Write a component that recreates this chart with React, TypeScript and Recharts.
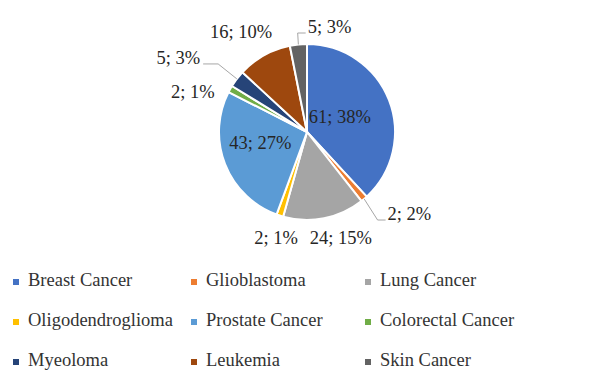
import { PieChart, Pie, Cell, Legend } from "recharts";

const categories = [
  "Breast Cancer",
  "Glioblastoma",
  "Lung Cancer",
  "Oligodendroglioma",
  "Prostate Cancer",
  "Colorectal Cancer",
  "Myeoloma",
  "Leukemia",
  "Skin Cancer",
];
const counts = [61, 2, 24, 2, 43, 2, 5, 16, 5];
const shares = [38, 2, 15, 1, 27, 1, 3, 10, 3];

const colors = [
  "#4472C4",
  "#ED7D31",
  "#A5A5A5",
  "#FFC000",
  "#5B9BD5",
  "#70AD47",
  "#264478",
  "#9E480E",
  "#636363",
];

// label distance from centre (px), angle nudge (deg), text anchor, leader tail length
const labelPlacement = [
  { r: 36, dA: 3, anchor: "middle" },
  { r: 115, dA: 4, anchor: "start", tail: 8 },
  { r: 111, dA: 6.5, anchor: "middle" },
  { r: 110, dA: 1.7, anchor: "middle" },
  { r: 48, dA: -8, anchor: "middle" },
  { r: 121, dA: 10, anchor: "middle" },
  { r: 130, dA: 2.4, anchor: "end", tail: 15 },
  { r: 120, dA: 4, anchor: "middle" },
  { r: 105, dA: -6, anchor: "start", tail: 8 },
];

const data = categories.map((name, i) => ({
  name,
  value: counts[i],
  share: shares[i],
}));

const FONT = "Liberation Serif";
const RAD = Math.PI / 180;

const polar = (cx: number, cy: number, r: number, angle: number) => ({
  x: cx + r * Math.cos(angle * RAD),
  y: cy - r * Math.sin(angle * RAD),
});

function SliceLabel(props: any) {
  const { cx, cy, midAngle, outerRadius, index } = props;
  const place = labelPlacement[index];
  const p = polar(cx, cy, place.r, midAngle + place.dA);
  const item = data[index];

  let leader = null;
  if (place.tail) {
    const edge = polar(cx, cy, outerRadius, midAngle);
    const end =
      place.anchor === "start"
        ? { x: p.x - 2, y: p.y + 6 }
        : { x: p.x + 3, y: p.y + 6 };
    const elbowX = place.anchor === "start" ? end.x - place.tail : end.x + place.tail;
    leader = (
      <polyline
        points={`${edge.x},${edge.y} ${elbowX},${end.y} ${end.x},${end.y}`}
        fill="none"
        stroke="#A6A6A6"
        strokeWidth={1}
      />
    );
  }

  return (
    <g>
      {leader}
      <text
        x={p.x}
        y={p.y}
        textAnchor={place.anchor}
        dominantBaseline="central"
        fill="#262626"
        style={{ fontFamily: FONT, fontSize: 18.5 }}
      >
        {`${item.value}; ${item.share}%`}
      </text>
    </g>
  );
}

function LegendGrid({ payload }: any) {
  // keep the legend in data order
  const items = categories.map((c, i) => {
    const hit = payload?.find((p: any) => p.value === c);
    return { label: c, color: hit?.color ?? colors[i] };
  });
  return (
    <div
      style={{
        display: "grid",
        gridTemplateColumns: "178px 174px auto",
        fontFamily: FONT,
        fontSize: 18.5,
        color: "#333",
      }}
    >
      {items.map((it) => (
        <div
          key={it.label}
          style={{ height: 40, lineHeight: "40px", whiteSpace: "nowrap" }}
        >
          <span
            style={{
              display: "inline-block",
              width: 6,
              height: 6,
              background: it.color,
              marginRight: 9,
              verticalAlign: "middle",
            }}
          />
          {it.label}
        </div>
      ))}
    </div>
  );
}

export default function App() {
  return (
    <div
      style={{
        position: "absolute",
        left: 0,
        top: 0,
        width: 590,
        height: 371,
        background: "#fff",
      }}
    >
      <PieChart
        width={590}
        height={371}
        margin={{ top: 0, right: 0, bottom: 0, left: 0 }}
      >
        <Pie
          data={data}
          dataKey="value"
          nameKey="name"
          cx={307}
          cy={132}
          outerRadius={88}
          startAngle={90}
          endAngle={-270}
          stroke="#fff"
          strokeWidth={2}
          label={SliceLabel}
          labelLine={false}
          isAnimationActive={false}
        >
          {data.map((d, i) => (
            <Cell key={d.name} fill={colors[i]} />
          ))}
        </Pie>
        <Legend
          verticalAlign="bottom"
          align="left"
          content={LegendGrid}
          wrapperStyle={{ left: 13, top: 260, bottom: "auto", width: 577 }}
        />
      </PieChart>
    </div>
  );
}
